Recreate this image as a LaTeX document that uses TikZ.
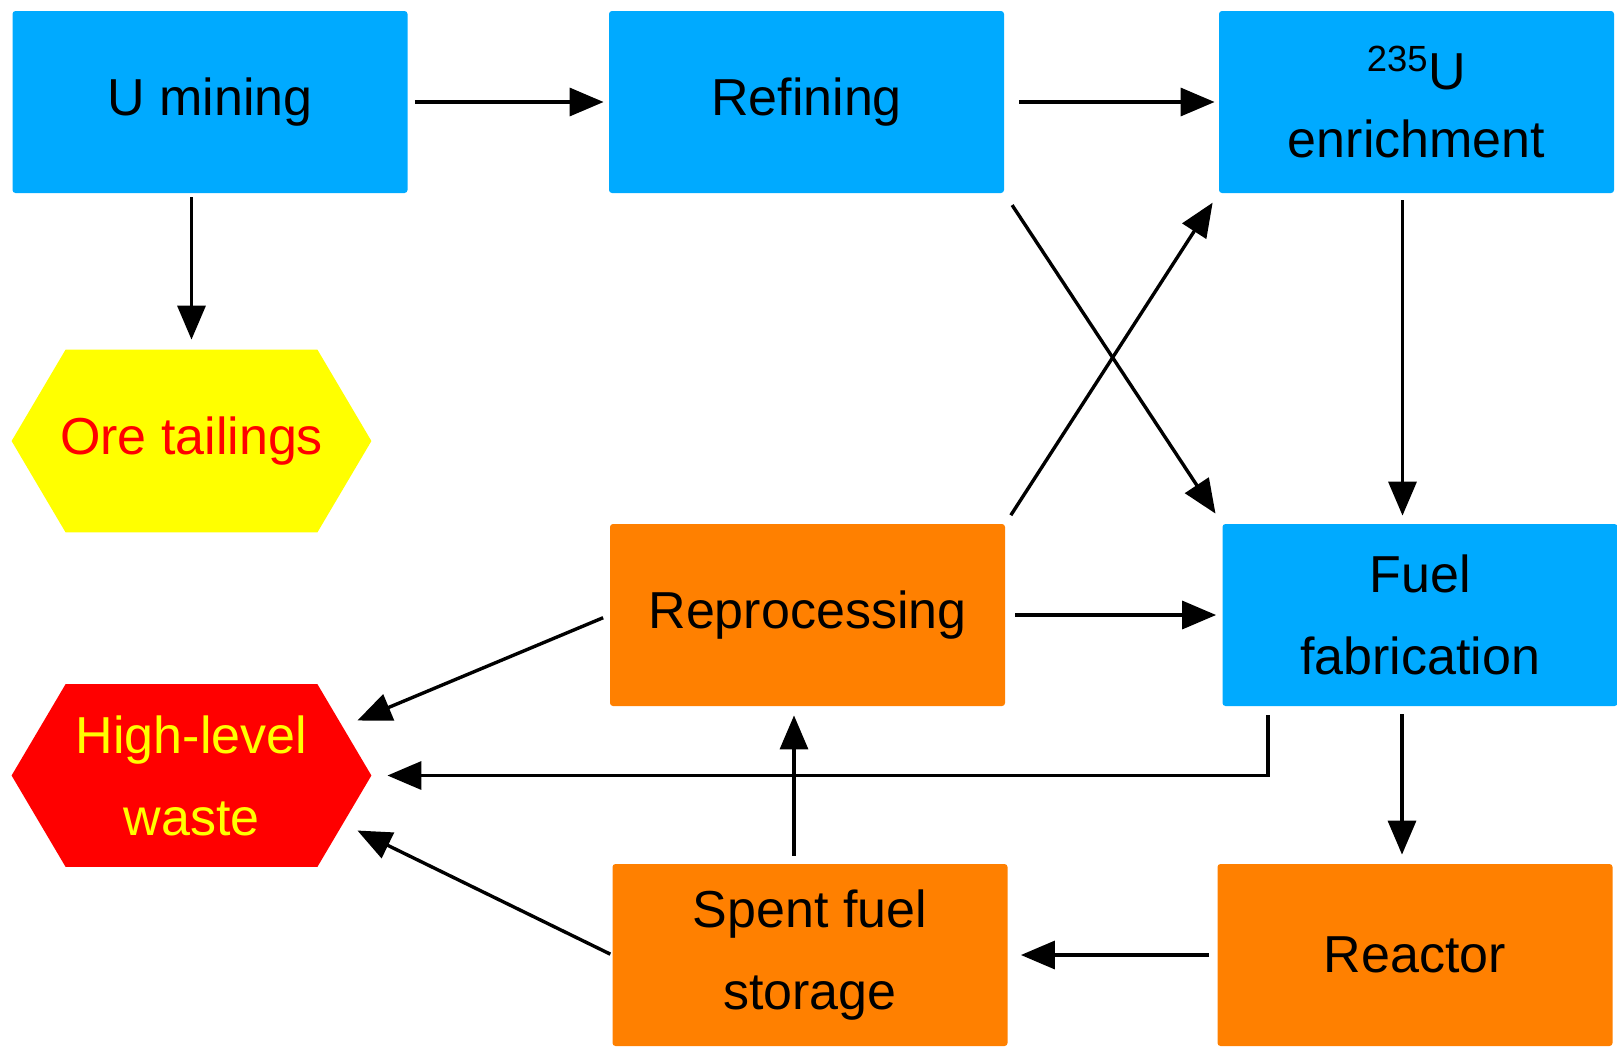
\documentclass[tikz,border=0pt]{standalone}
\usepackage{fontspec}
\setmainfont{Liberation Sans}
\usetikzlibrary{arrows.meta}
\definecolor{stageBlue}{RGB}{0,170,255}
\definecolor{stageOrange}{RGB}{255,128,0}
\definecolor{wasteYellow}{RGB}{255,255,0}
\definecolor{wasteRed}{RGB}{255,0,0}
\pgfdeclarelayer{background}
\pgfsetlayers{background,main}
\tikzstyle{cycleChart} = [x = .5pt, y = -.5pt, font = \fontsize{26}{41}\selectfont]
\tikzstyle{stageBox} = [rectangle, rounded corners = 1.5pt, minimum width = 197.5pt, minimum height = 91pt, align = center, inner sep = 0pt]
\tikzstyle{blueStage} = [stageBox, fill = stageBlue]
\tikzstyle{orangeStage} = [stageBox, fill = stageOrange]
\tikzstyle{wasteHex} = [rectangle, minimum width = 179.5pt, minimum height = 91pt, align = center, inner sep = 0pt]
\tikzstyle{flowArrow} = [-{Triangle[length = 17pt, width = 14pt]}, line width = 1.7pt]
\newcommand{\hexFill}[2]{
  \begin{pgfonlayer}{background}
    \fill [#2] ([xshift = 27pt]#1.north west) -- ([xshift = -27pt]#1.north east) -- (#1.east)
      -- ([xshift = -27pt]#1.south east) -- ([xshift = 27pt]#1.south west) -- (#1.west) -- cycle;
  \end{pgfonlayer}
}
\begin{document}
\begin{tikzpicture}[cycleChart]
       \useasboundingbox (0,0) rectangle (1617,1046);
       \node (mining) [blueStage] at (210,102) {U mining};
       \node (refining) [blueStage] at (806.5,102) {Refining};
       \node (enrich) [blueStage] at (1416.5,102) {\textsuperscript{235}U\\[-7pt]enrichment};
       \node (ore) [wasteHex, text = wasteRed] at (191.5,441) {Ore tailings};
       \node (hlw) [wasteHex, text = wasteYellow] at (191.5,775.5) {High-level\\waste};
       \node (reproc) [orangeStage] at (807.5,615) {Reprocessing};
       \node (fab) [blueStage] at (1420,615) {Fuel\\fabrication};
       \node (spent) [orangeStage] at (810,955) {Spent fuel\\storage};
       \node (reactor) [orangeStage] at (1415,955) {Reactor};
       \hexFill{ore}{wasteYellow}
       \hexFill{hlw}{wasteRed}

       \draw [flowArrow, shorten < = 3.5pt, shorten > = 2.5pt] (mining) -- (refining);
       \draw [flowArrow, shorten < = 7.5pt, shorten > = 2pt] (refining) -- (enrich);
       \draw [flowArrow, shorten < = 2pt, shorten > = 5pt] (mining.south -| ore.north) -- (ore.north);
       \draw [flowArrow, shorten < = 3.5pt, shorten > = 4pt] ([xshift = -7pt]enrich.south) -- ([xshift = -7pt]enrich.south |- fab.north);
       \draw [flowArrow, shorten < = 7pt, shorten > = 6pt] (refining.south east) -- (fab.north west);
       \draw [flowArrow, shorten < = 5pt, shorten > = 5.5pt] (reproc.north east) -- (enrich.south west);
       \draw [flowArrow, shorten < = 5pt, shorten > = 3pt] (reproc) -- (fab);
       \draw [flowArrow, shorten < = 3.5pt] (reproc.west) -- ([xshift = -7pt]hlw.17);
       \draw [flowArrow, shorten < = 4.5pt, shorten > = 8pt] ([xshift = -76pt]fab.south) |- (hlw.east);
       \draw [flowArrow, shorten < = 4pt, shorten > = 4.5pt] ([xshift = -8pt]spent.north) -- ([xshift = -8pt]spent.north |- reproc.south);
       \draw [flowArrow, shorten < = 1pt] (spent.west) -- ([xshift = -7pt]hlw.-17);
       \draw [flowArrow, shorten < = 4pt, shorten > = 4.5pt] ([xshift = -9pt]fab.south) -- ([xshift = -9pt]fab.south |- reactor.north);
       \draw [flowArrow, shorten < = 4pt, shorten > = 6.5pt] (reactor) -- (spent);
     \end{tikzpicture}
\end{document}
